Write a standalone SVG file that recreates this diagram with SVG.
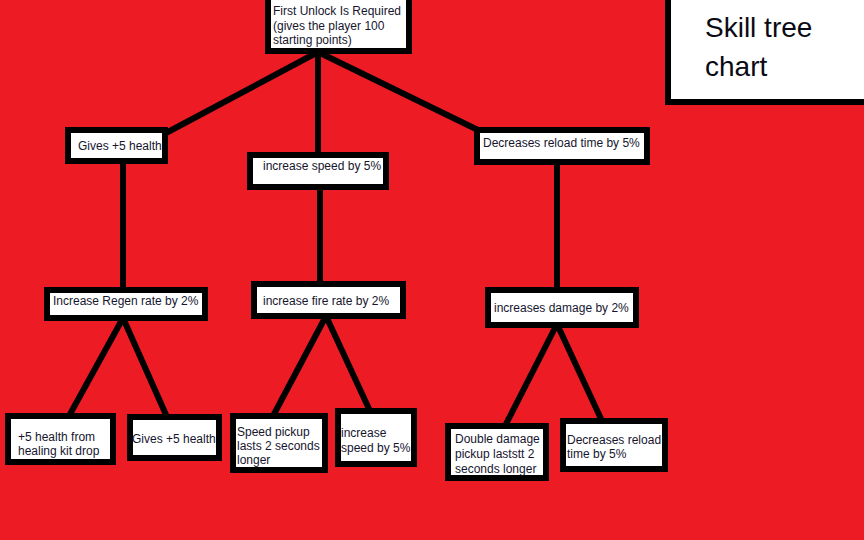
<svg xmlns="http://www.w3.org/2000/svg" width="864" height="540" viewBox="0 0 864 540">
  <style>
    .box { fill: #ffffff; stroke: #000000; stroke-width: 6; }
    .lbl { font-family: "Liberation Sans", Arial, sans-serif; font-size: 12px; fill: #15152e; }
    .title { font-family: "Liberation Sans", Arial, sans-serif; font-size: 28px; fill: #0a0a14; }
    .wire { stroke: #000000; stroke-width: 6; fill: none; stroke-linecap: butt; }
  </style>

  <!-- background -->
  <rect x="0" y="0" width="864" height="540" fill="#ed1c24"/>

  <!-- connectors -->
  <g id="connectors">
    <line class="wire" x1="318" y1="52" x2="166" y2="133"/>
    <line class="wire" x1="318" y1="52" x2="318" y2="155"/>
    <line class="wire" x1="318" y1="52" x2="480" y2="131"/>
    <line class="wire" x1="123" y1="162" x2="123" y2="290"/>
    <line class="wire" x1="320" y1="188" x2="320" y2="284"/>
    <line class="wire" x1="557" y1="163" x2="557" y2="290"/>
    <line class="wire" x1="123" y1="318" x2="69" y2="416"/>
    <line class="wire" x1="123" y1="318" x2="167" y2="417"/>
    <line class="wire" x1="326" y1="316" x2="273" y2="416"/>
    <line class="wire" x1="326" y1="316" x2="370" y2="411"/>
    <line class="wire" x1="557" y1="324" x2="505" y2="426"/>
    <line class="wire" x1="557" y1="324" x2="602" y2="421"/>
    <rect x="545" y="131" width="3" height="1.5" fill="#000000"/>
  </g>

  <g id="root">
    <rect class="box" x="268" y="-3" width="141" height="54"/>
    <text class="lbl" x="273" y="15">First Unlock Is Required</text>
    <text class="lbl" x="273" y="29.5">(gives the player 100</text>
    <text class="lbl" x="273" y="44">starting points)</text>
  </g>

  <g id="title">
    <rect class="box" x="668" y="-5" width="202" height="107"/>
    <text class="title" x="705" y="37">Skill tree</text>
    <text class="title" x="705" y="76">chart</text>
  </g>

  <g id="health">
    <rect class="box" x="68" y="130" width="97" height="31"/>
    <text class="lbl" x="78" y="150">Gives +5 health</text>
  </g>

  <g id="speed">
    <rect class="box" x="250" y="155" width="136" height="32"/>
    <text class="lbl" x="263" y="170">increase speed by 5%</text>
  </g>

  <g id="reload">
    <rect class="box" x="477" y="130" width="170" height="32"/>
    <text class="lbl" x="483" y="147">Decreases reload time by 5%</text>
  </g>

  <g id="regen">
    <rect class="box" x="47" y="290" width="158" height="28"/>
    <text class="lbl" x="53" y="305">Increase Regen rate by 2%</text>
  </g>

  <g id="firerate">
    <rect class="box" x="254" y="284" width="149" height="32"/>
    <text class="lbl" x="263" y="305">increase fire rate by 2%</text>
  </g>

  <g id="damage">
    <rect class="box" x="488" y="290" width="148" height="35"/>
    <text class="lbl" x="494" y="312">increases damage by 2%</text>
  </g>

  <g id="healkit">
    <rect class="box" x="8" y="416" width="105" height="46"/>
    <text class="lbl" x="18" y="441">+5 health from</text>
    <text class="lbl" x="18" y="455">healing kit drop</text>
  </g>

  <g id="health2">
    <rect class="box" x="130" y="417" width="89" height="41"/>
    <text class="lbl" x="132" y="443">Gives +5 health</text>
  </g>

  <g id="speedpickup">
    <rect class="box" x="233" y="416" width="92" height="54"/>
    <text class="lbl" x="237" y="436">Speed pickup</text>
    <text class="lbl" x="237" y="450">lasts 2 seconds</text>
    <text class="lbl" x="237" y="464">longer</text>
  </g>

  <g id="speed2">
    <rect class="box" x="338" y="411" width="76" height="53"/>
    <text class="lbl" x="341" y="437">increase</text>
    <text class="lbl" x="341" y="452">speed by 5%</text>
  </g>

  <g id="doubledamage">
    <rect class="box" x="448" y="426" width="98" height="52"/>
    <text class="lbl" x="455" y="443">Double damage</text>
    <text class="lbl" x="455" y="458">pickup laststt 2</text>
    <text class="lbl" x="455" y="473">seconds longer</text>
  </g>

  <g id="reload2">
    <rect class="box" x="563" y="421" width="102" height="48"/>
    <text class="lbl" x="567" y="444">Decreases reload</text>
    <text class="lbl" x="567" y="458">time by 5%</text>
  </g>
</svg>
